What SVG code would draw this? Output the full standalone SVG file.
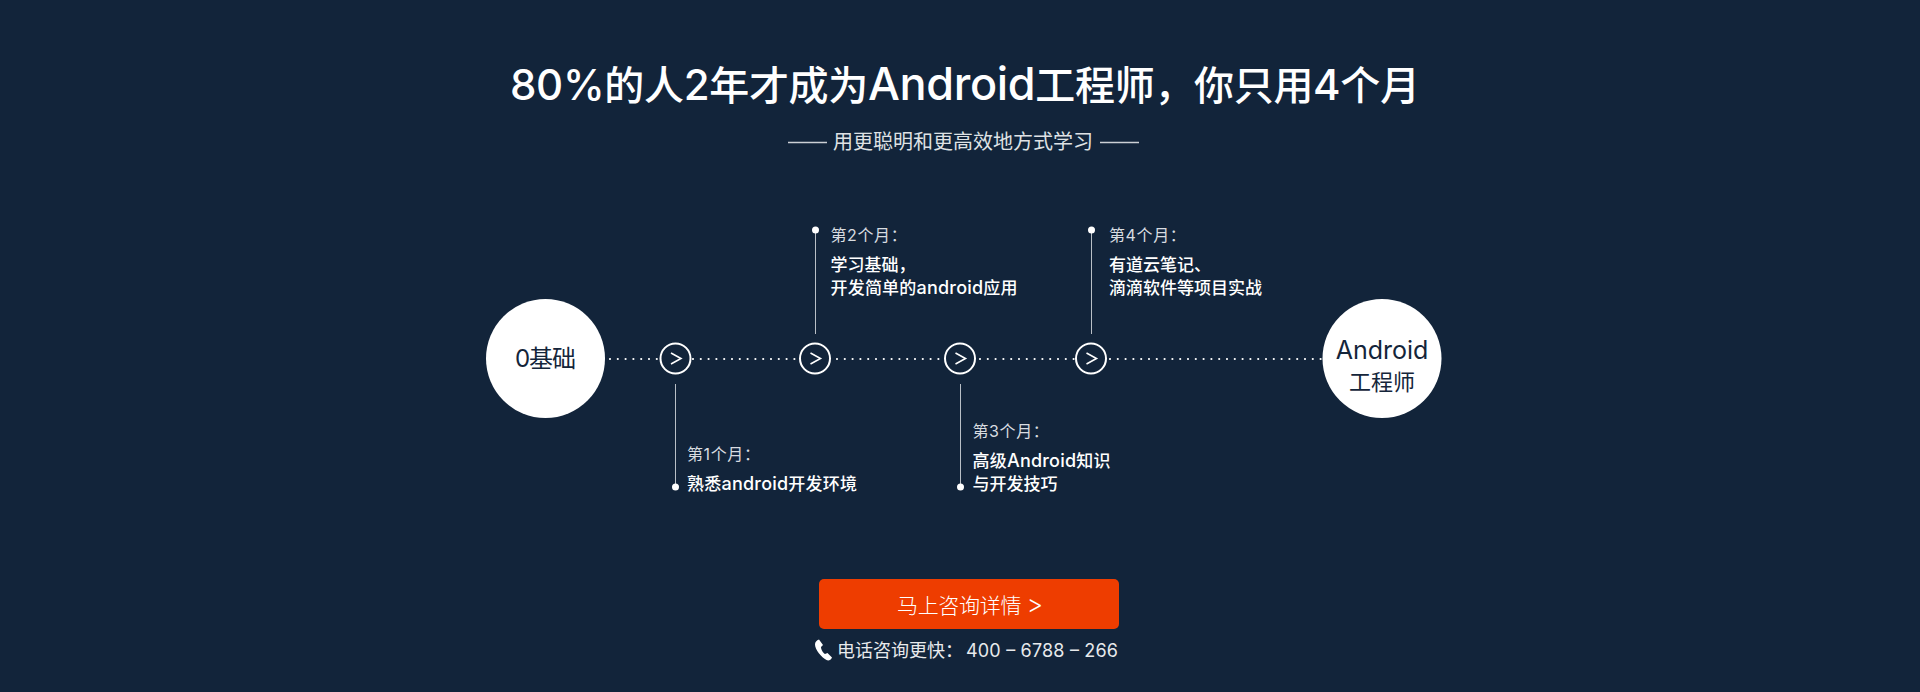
<svg xmlns="http://www.w3.org/2000/svg" width="1920" height="692" viewBox="0 0 1920 692">
<style>
text{font-family:Inter,"Noto Sans CJK SC",sans-serif}
.m{font-size:16px;fill:#d8dce0;letter-spacing:.6px}
.b{font-size:17px;fill:#fff;font-weight:500}
.l{font-size:18px}
.t{font-size:42px}
.dark{fill:#14253a;text-anchor:middle}
.dots{stroke:#fff;stroke-width:2.200;stroke-linecap:round;stroke-dasharray:0 7.8;fill:none}
.stem{stroke:#b9bfc6;stroke-width:1;fill:none}
.ring{fill:none;stroke:#fff;stroke-width:2}
.chev{fill:none;stroke:#fff;stroke-width:1.600}
</style>
<rect width="1920" height="692" fill="#12243a"/>
<text x="510" y="100" font-size="40" font-weight="500" fill="#fff" textLength="910"><tspan class="t">80%</tspan>的人<tspan class="t">2</tspan>年才成为<tspan font-size="45">Android</tspan>工程师，你只用<tspan class="t">4</tspan>个月</text>
<g stroke="#ccd0d5" stroke-width="1.500"><line x1="788" y1="142.500" x2="827" y2="142.500"/><line x1="1100" y1="142.500" x2="1139" y2="142.500"/></g>
<text x="833" y="149" font-size="20" fill="#dfe2e5" textLength="260">用更聪明和更高效地方式学习</text>
<g id="connectors">
<line class="dots" x1="610" y1="359" x2="658" y2="359"/>
<line class="dots" x1="693" y1="359" x2="795" y2="359"/>
<line class="dots" x1="837" y1="359" x2="940" y2="359"/>
<line class="dots" x1="980" y1="359" x2="1074" y2="359"/>
<line class="dots" x1="1110" y1="359" x2="1322" y2="359"/>
<line class="stem" x1="675.500" y1="384" x2="675.500" y2="487"/>
<line class="stem" x1="815.500" y1="230" x2="815.500" y2="334"/>
<line class="stem" x1="960.500" y1="384" x2="960.500" y2="487"/>
<line class="stem" x1="1091.500" y1="230" x2="1091.500" y2="334"/>
</g>
<g id="start"><circle cx="545.500" cy="358.500" r="59.500" fill="#fff"/><text class="dark" x="545.500" y="367" font-size="24" textLength="61">0基础</text></g>
<g id="end"><circle cx="1382" cy="358.500" r="59.500" fill="#fff"/><text class="dark" x="1382" y="359" font-size="25">Android</text><text class="dark" x="1382" y="390" font-size="22">工程师</text></g>
<g id="step1"><circle class="ring" cx="675.500" cy="358.500" r="15"/><path class="chev" d="M671 353L681 358.500L671 364"/><circle cx="675.500" cy="487" r="3.500" fill="#fff"/><text class="m" x="687" y="460">第1个月：</text><text class="b" x="687" y="490" textLength="170">熟悉<tspan class="l">android</tspan>开发环境</text></g>
<g id="step2"><circle class="ring" cx="815" cy="358.500" r="15"/><path class="chev" d="M810.500 353L820.500 358.500L810.500 364"/><circle cx="815.500" cy="230" r="3.500" fill="#fff"/><text class="m" x="830.500" y="241">第2个月：</text><text class="b" x="830.500" y="271">学习基础，</text><text class="b" x="830.500" y="294" textLength="187">开发简单的<tspan class="l">android</tspan>应用</text></g>
<g id="step3"><circle class="ring" cx="960" cy="358.500" r="15"/><path class="chev" d="M955.500 353L965.500 358.500L955.500 364"/><circle cx="960.500" cy="487" r="3.500" fill="#fff"/><text class="m" x="972.500" y="437">第3个月：</text><text class="b" x="972.500" y="467" textLength="138">高级<tspan class="l">Android</tspan>知识</text><text class="b" x="972.500" y="490">与开发技巧</text></g>
<g id="step4"><circle class="ring" cx="1091" cy="358.500" r="15"/><path class="chev" d="M1086.500 353L1096.500 358.500L1086.500 364"/><circle cx="1091.500" cy="230" r="3.500" fill="#fff"/><text class="m" x="1109" y="241">第4个月：</text><text class="b" x="1109" y="271">有道云笔记、</text><text class="b" x="1109" y="294">滴滴软件等项目实战</text></g>
<g id="cta"><rect x="819" y="579" width="300" height="50" rx="5" fill="#ee3d00"/><text x="897" y="613" font-size="21" fill="#fff" textLength="146" font-weight="300">马上咨询详情 <tspan font-size="25">&gt;</tspan></text></g>
<g id="phone"><path d="M819 639.500c-2.500 1-4 2.500-4 5c0 5 6.500 13 11.500 15.500c2 1 4.500 0 5.500-2.500l-4.500-4.500l-2.500 1c-2-1-4-4.500-4-7l2-2z" fill="#fff"/><text x="837" y="656.500" font-size="18" fill="#e8eaec">电话咨询更快：</text><text x="966" y="656.500" font-size="18" fill="#e8eaec" textLength="152">400 – 6788 – 266</text></g>
</svg>
